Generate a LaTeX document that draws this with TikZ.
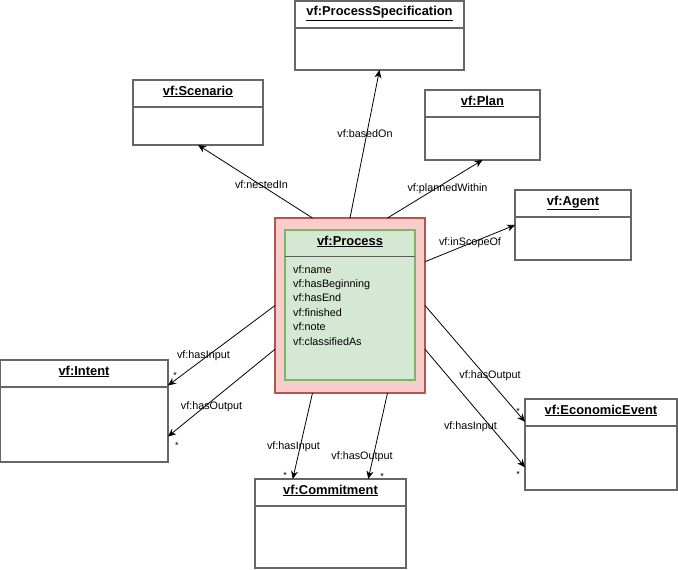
\documentclass[tikz,border=0pt]{standalone}
\usepackage{fontspec}
\setmainfont{Liberation Sans}
\usetikzlibrary{arrows.meta,calc}
\definecolor{boxgray}{HTML}{666666}
\definecolor{procfill}{HTML}{F8CECC}
\definecolor{procdraw}{HTML}{B85450}
\definecolor{innerfill}{HTML}{D5E8D4}
\definecolor{innerdraw}{HTML}{82B366}
\newcommand\umlbox[6]{%
  \node[cls, minimum width=#4, minimum height=#5] (#1) at (#2,#3) {};
  \draw[clsline] ($(#1.north west)+(0,27)$) -- ($(#1.north east)+(0,27)$);
  \node[ttl] (#1-t) at ($(#1.north)+(0,15)$) {\underline{\textbf{#6}}};
}
\begin{document}
\begin{tikzpicture}[x=1pt,y=-1pt,
  cls/.style={draw=boxgray, line width=1.5pt, fill=white, anchor=north west, inner sep=0pt, outer sep=0pt},
  clsline/.style={draw=boxgray, line width=1.5pt},
  ttl/.style={anchor=base, inner sep=0pt, font=\fontsize{12.9}{15}\selectfont},
  lbl/.style={inner sep=0pt, font=\fontsize{10.8}{13}\selectfont},
  attr/.style={anchor=base west, inner sep=0pt, font=\fontsize{10.8}{13}\selectfont},
  star/.style={inner sep=0pt, font=\fontsize{9}{11}\selectfont},
  edge/.style={draw=black, line width=0.8pt, -{Stealth[length=8pt,width=7pt,inset=2.5pt]}}]
\useasboundingbox (0,0) rectangle (678,570);

% class boxes
\umlbox{ps}{295}{1}{169}{69}{vf:ProcessSpecification}
\umlbox{scen}{133}{80}{130}{65}{vf:Scenario}
\umlbox{plan}{425}{90}{115}{70}{vf:Plan}
\umlbox{agent}{515}{190}{116}{70}{vf:Agent}
\umlbox{intent}{0}{360}{168}{102}{vf:Intent}
\umlbox{commit}{255}{479}{151}{89}{vf:Commitment}
\umlbox{ee}{525}{399}{152}{91}{vf:EconomicEvent}

% process
\node[draw=procdraw, fill=procfill, line width=1.5pt, anchor=north west, inner sep=0pt, outer sep=0pt,
      minimum width=150, minimum height=175] (proc) at (275,218) {};
\node[draw=innerdraw, fill=innerfill, line width=1.5pt, anchor=north west, inner sep=0pt, outer sep=0pt,
      minimum width=130, minimum height=150] (inner) at (285,230) {};
\draw[draw=black!65, line width=1.5pt] ($(inner.north west)+(0,26.5)$) -- ($(inner.north east)+(0,26.5)$);
\node[ttl] (inner-t) at ($(inner.north)+(0,15)$) {\underline{\textbf{vf:Process}}};
\node[attr] (a1) at (293,273) {vf:name};
\node[attr] (a2) at (293,287.4) {vf:hasBeginning};
\node[attr] (a3) at (293,301.8) {vf:hasEnd};
\node[attr] (a4) at (293,316.2) {vf:finished};
\node[attr] (a5) at (293,330.6) {vf:note};
\node[attr] (a6) at (293,345) {vf:classifiedAs};

% connectors
\draw[edge] ($(proc.north west)!0.25!(proc.north east)$) -- ($(scen.south west)!0.5!(scen.south east)$);
\draw[edge] ($(proc.north west)!0.5!(proc.north east)$) -- ($(ps.south west)!0.5!(ps.south east)$);
\draw[edge] ($(proc.north west)!0.75!(proc.north east)$) -- ($(plan.south west)!0.5!(plan.south east)$);
\draw[edge] ($(proc.north east)!0.25!(proc.south east)$) -- ($(agent.north west)!0.5!(agent.south west)$);
\draw[edge] ($(proc.north west)!0.5!(proc.south west)$) -- ($(intent.north east)!0.25!(intent.south east)$);
\draw[edge] ($(proc.north west)!0.75!(proc.south west)$) -- ($(intent.north east)!0.75!(intent.south east)$);
\draw[edge] ($(proc.south west)!0.25!(proc.south east)$) -- ($(commit.north west)!0.25!(commit.north east)$);
\draw[edge] ($(proc.south west)!0.75!(proc.south east)$) -- ($(commit.north west)!0.75!(commit.north east)$);
\draw[edge] ($(proc.north east)!0.5!(proc.south east)$) -- ($(ee.north west)!0.25!(ee.south west)$);
\draw[edge] ($(proc.north east)!0.75!(proc.south east)$) -- ($(ee.north west)!0.75!(ee.south west)$);

% labels
\node[lbl] (l1) at (261.5,185) {vf:nestedIn};
\node[lbl] (l2) at (365,134) {vf:basedOn};
\node[lbl] (l3) at (447.5,189) {vf:plannedWithin};
\node[lbl] (l4) at (470,243) {vf:inScopeOf};
\node[lbl] (l5) at (203.5,356) {vf:hasInput};
\node[lbl] (l6) at (211.5,407) {vf:hasOutput};
\node[lbl] (l7) at (293.5,447) {vf:hasInput};
\node[lbl] (l8) at (362,457) {vf:hasOutput};
\node[lbl] (l9) at (490,376) {vf:hasOutput};
\node[lbl] (l10) at (470.5,427) {vf:hasInput};

% multiplicities
\node[star] (s1) at (175,375) {*};
\node[star] (s2) at (177,445) {*};
\node[star] (s3) at (285,475) {*};
\node[star] (s4) at (382,476) {*};
\node[star] (s5) at (518,411) {*};
\node[star] (s6) at (518,474) {*};
\end{tikzpicture}
\end{document}
